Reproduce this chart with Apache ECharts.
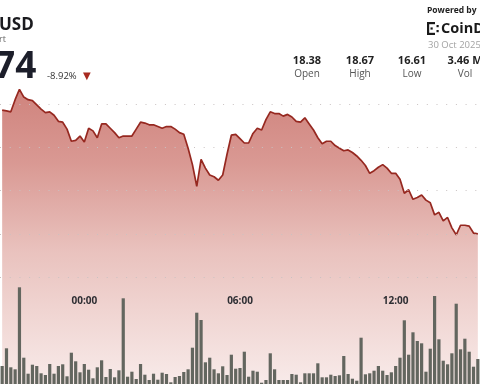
<!DOCTYPE html>
<html><head><meta charset="utf-8">
<script src="https://cdn.jsdelivr.net/npm/echarts@6/dist/echarts.min.js"></script>
<style>html,body{margin:0;padding:0;background:#fff}#c{width:480px;height:384px}</style>
</head><body><div id="c"></div>
<script>
// 10-minute candles, first visible bar at 20:50 (previous day)
const startMinutes = 20 * 60 + 50;
const stepMinutes = 10;
const tickLabels = ['00:00', '06:00', '12:00'];

const prices = [
  18.43, 18.42, 18.41, 18.55, 18.67, 18.58, 18.55, 18.54, 18.49, 18.44,
  18.40, 18.41, 18.37, 18.30, 18.29, 18.21, 18.07, 18.08, 18.13, 18.06,
  18.22, 18.19, 18.11, 18.27, 18.27, 18.22, 18.17, 18.11, 18.13, 18.13,
  18.13, 18.21, 18.29, 18.28, 18.26, 18.26, 18.24, 18.22, 18.24, 18.24,
  18.21, 18.17, 18.15, 17.99, 17.80, 17.55, 17.86, 17.76, 17.68, 17.66,
  17.62, 17.68, 17.92, 18.14, 18.15, 18.10, 18.05, 18.05, 18.16, 18.22,
  18.20, 18.32, 18.41, 18.39, 18.39, 18.36, 18.38, 18.35, 18.30, 18.29,
  18.34, 18.27, 18.20, 18.11, 18.04, 18.07, 18.07, 18.02, 17.99, 17.96,
  17.97, 17.94, 17.90, 17.85, 17.79, 17.70, 17.73, 17.77, 17.80, 17.76,
  17.70, 17.70, 17.63, 17.47, 17.51, 17.40, 17.42, 17.45, 17.39, 17.36,
  17.22, 17.25, 17.15, 17.19, 17.07, 16.99, 17.10, 17.10, 17.09, 17.01,
  17.00
];

// volume per bar, thousands
const volumes = [
  18, 35.7, 16.7, 14.7, 96.7, 26.3, 10.3, 19.3, 18, 10.7,
  9, 20, 10.3, 18, 19.7, 7.7, 31.3, 22.7, 11.7, 20,
  14.3, 5.7, 16.7, 23.7, 7, 15, 6.7, 13.7, 85.7, 7.3,
  12.3, 5, 20, 9.3, 4, 10.3, 4.3, 11.3, 10, 1.7,
  7, 8, 12, 14.7, 36.3, 71.3, 64, 21.7, 26.3, 14.7,
  10.7, 17.7, 9, 29.3, 15.3, 16, 32.3, 7.3, 13.3, 12.3,
  1.3, 4, 30.7, 14.7, 4, 4, 4, 10, 9.3, 1.7,
  10.7, 10.7, 10.7, 20.7, 6.7, 6.7, 9.3, 8, 8.7, 28,
  10, 5.3, 3.3, 46.3, 9.7, 10.7, 13.3, 18, 13.3, 9,
  11.7, 18, 26.3, 63.7, 29.3, 51.7, 43, 40.7, 12.3, 35.3,
  88, 44.7, 23.3, 19.7, 30.7, 80.3, 34.7, 45.3, 32.3, 17.3,
  25
];

const gridPrices = [18.5, 18.0, 17.5, 17.0, 16.5];

const statValues = ['18.38', '18.67', '16.61', '3.46 M'];
const statNames = ['Open', 'High', 'Low', 'Vol'];

const times = [];
for (let i = 0; i < prices.length; i++) {
  const m = (startMinutes + i * stepMinutes) % 1440;
  times.push(String(Math.floor(m / 60)).padStart(2, '0') + ':' + String(m % 60).padStart(2, '0'));
}

const chart = echarts.init(document.getElementById('c'), null, {renderer: 'canvas'});
const FONT = '"Open Sans", "Noto Sans", sans-serif';

const statX = [307, 360, 412, 465];
const graphics = [
  {type: 'text', x: -1, y: 25.5, style: {text: 'USD', font: 'bold 17px ' + FONT, fill: '#1b1b1f', verticalAlign: 'middle'}},
  {type: 'text', x: -1, y: 39, style: {text: 'rt', font: '9px ' + FONT, fill: '#666', verticalAlign: 'middle'}},
  {type: 'text', x: -6, y: 67, style: {text: '74', font: 'bold 37px ' + FONT, fill: '#1c1e2a', verticalAlign: 'middle'}},
  {type: 'text', x: 47, y: 76, style: {text: '-8.92%', font: '9.5px ' + FONT, fill: '#333', verticalAlign: 'middle'}},
  {type: 'text', x: 83, y: 76, style: {text: '▼', font: '10px "DejaVu Sans"', fill: '#a82a20', verticalAlign: 'middle'}},
  {type: 'text', x: 427, y: 11, style: {text: 'Powered by', font: 'bold 8.5px ' + FONT, fill: '#222', verticalAlign: 'middle'}},
  {type: 'text', x: 441, y: 29, style: {text: 'CoinD', font: 'bold 14.5px ' + FONT, fill: '#1a1a1a', verticalAlign: 'middle'}},
  {type: 'rect', shape: {x: 427, y: 22, width: 2.2, height: 13}, style: {fill: '#1a1a1a'}},
  {type: 'rect', shape: {x: 427, y: 22, width: 8, height: 2.2}, style: {fill: '#1a1a1a'}},
  {type: 'rect', shape: {x: 427, y: 32.8, width: 8, height: 2.2}, style: {fill: '#1a1a1a'}},
  {type: 'rect', shape: {x: 430.5, y: 27.4, width: 2.2, height: 2.2}, style: {fill: '#1a1a1a'}},
  {type: 'rect', shape: {x: 436.5, y: 25, width: 2.2, height: 2.2}, style: {fill: '#1a1a1a'}},
  {type: 'rect', shape: {x: 436.5, y: 30, width: 2.2, height: 2.2}, style: {fill: '#1a1a1a'}},
  {type: 'text', x: 428, y: 45, style: {text: '30 Oct 2025', font: '9.5px ' + FONT, fill: '#a3a3a3', verticalAlign: 'middle'}}
];
statValues.forEach((v, i) => {
  graphics.push({type: 'text', x: statX[i], y: 61, style: {text: v, font: 'bold 11px ' + FONT, fill: '#222', align: 'center', verticalAlign: 'middle'}});
  graphics.push({type: 'text', x: statX[i], y: 74, style: {text: statNames[i], font: '10px ' + FONT, fill: '#555', align: 'center', verticalAlign: 'middle'}});
});

chart.setOption({
  animation: false,
  backgroundColor: '#fff',
  graphic: graphics,
  grid: [
    {left: -3.2, right: -1.5, top: 0, bottom: 0},
    {left: -3.2, right: -1.5, top: 285, bottom: 0}
  ],
  xAxis: [
    {type: 'category', gridIndex: 0, data: times, boundaryGap: true, show: false},
    {
      type: 'category', gridIndex: 1, data: times, boundaryGap: true, position: 'top', z: 10,
      axisLine: {show: false},
      axisTick: {show: true, inside: true, length: 1.5, alignWithLabel: true,
        interval: (i, v) => tickLabels.includes(v), lineStyle: {color: '#888', width: 1}},
      axisLabel: {show: true, inside: true, margin: 11,
        interval: (i, v) => tickLabels.includes(v),
        color: '#2e2e33', fontSize: 10, fontWeight: 'bold', fontFamily: FONT},
      splitLine: {show: false}
    }
  ],
  yAxis: [
    {type: 'value', gridIndex: 0, min: 15.267, max: 19.701, show: false, splitLine: {show: false}},
    {type: 'value', gridIndex: 1, min: 0, max: 99, show: false, splitLine: {show: false}}
  ],
  series: [
    {
      type: 'line', xAxisIndex: 0, yAxisIndex: 0, data: prices, symbol: 'none', smooth: false,
      lineStyle: {color: '#962820', width: 1.7},
      areaStyle: {origin: 'start', color: new echarts.graphic.LinearGradient(0, 0, 0, 1, [
        {offset: 0, color: '#bb4e45'},
        {offset: 0.25, color: '#c96d65'},
        {offset: 0.55, color: '#e0a8a2'},
        {offset: 1, color: '#f5e2e0'}
      ])},
      markLine: {
        silent: true, symbol: ['none', 'none'], label: {show: false},
        lineStyle: {color: '#c9c2c2', type: [1, 8.7], width: 1},
        data: gridPrices.map(p => ({yAxis: p}))
      },
      z: 2
    },
    {
      type: 'bar', xAxisIndex: 1, yAxisIndex: 1, data: volumes, barWidth: 3.2,
      itemStyle: {color: '#63665f'}, z: 3
    }
  ]
});
</script>
</body></html>
